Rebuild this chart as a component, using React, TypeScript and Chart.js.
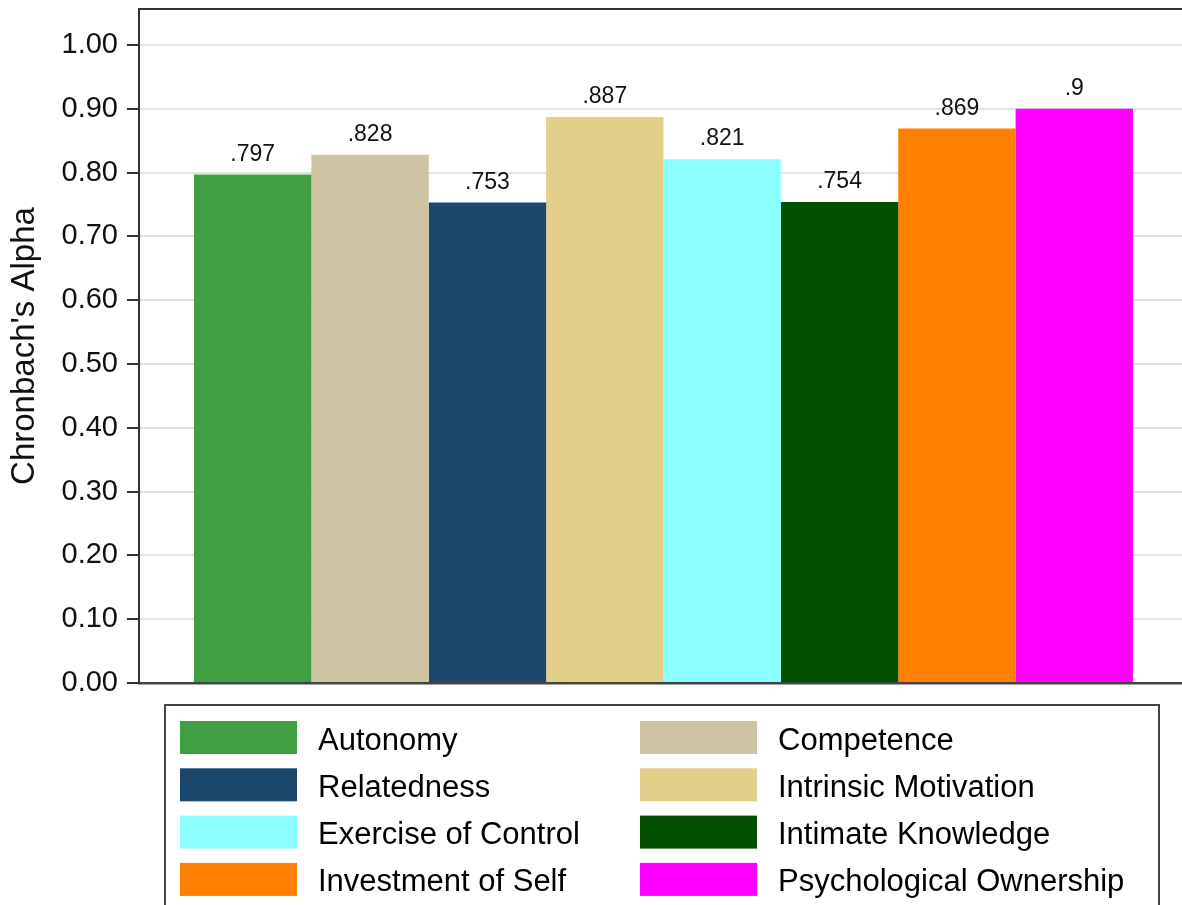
import React, { useEffect, useRef } from "react";
import { Chart, registerables } from "chart.js";

Chart.register(...registerables);

const categories = [
  "Autonomy",
  "Competence",
  "Relatedness",
  "Intrinsic Motivation",
  "Exercise of Control",
  "Intimate Knowledge",
  "Investment of Self",
  "Psychological Ownership",
];
const alphaValues = [0.797, 0.828, 0.753, 0.887, 0.821, 0.754, 0.869, 0.9];
const barColors = [
  "#409f40",
  "#cec3a2",
  "#1c476c",
  "#e2cf89",
  "#8cffff",
  "#005000",
  "#ff8000",
  "#ff00ff",
];
const yTickValues = [0, 0.1, 0.2, 0.3, 0.4, 0.5, 0.6, 0.7, 0.8, 0.9, 1.0];
const yTickLabels = ["0.00", "0.10", "0.20", "0.30", "0.40", "0.50", "0.60", "0.70", "0.80", "0.90", "1.00"];
const yAxisTitle = "Chronbach's Alpha";

const FONT = "'Liberation Sans', Arial, Helvetica, sans-serif";

const formatAlpha = (v: number) => String(v).replace(/^0/, "");

const valueLabelPlugin = {
  id: "valueLabels",
  afterDatasetsDraw(chart: any) {
    const ctx = chart.ctx;
    ctx.save();
    ctx.font = `23px ${FONT}`;
    ctx.fillStyle = "#111";
    ctx.textAlign = "center";
    ctx.textBaseline = "alphabetic";
    chart.data.datasets.forEach((ds: any, i: number) => {
      const meta = chart.getDatasetMeta(i);
      const bar = meta.data[0];
      if (!bar) return;
      ctx.fillText(formatAlpha(ds.data[0]), bar.x, bar.y - 14);
    });
    ctx.restore();
  },
};

const frameAndLegendPlugin = {
  id: "frameLegend",
  afterDraw(chart: any) {
    const ctx = chart.ctx;
    const area = chart.chartArea;
    ctx.save();
    // top frame line of plot region
    ctx.strokeStyle = "#333";
    ctx.lineWidth = 2;
    ctx.beginPath();
    ctx.moveTo(area.left, area.top);
    ctx.lineTo(area.right, area.top);
    ctx.lineTo(area.right, area.bottom);
    ctx.stroke();

    // legend box
    ctx.strokeStyle = "#444";
    ctx.lineWidth = 2;
    ctx.strokeRect(165, 705, 994, 240);
    ctx.font = `31px ${FONT}`;
    ctx.textBaseline = "middle";
    ctx.textAlign = "left";
    chart.data.datasets.forEach((ds: any, i: number) => {
      const col = i % 2;
      const row = Math.floor(i / 2);
      const sx = col === 0 ? 180 : 640;
      const sy = 721 + row * 47.3;
      ctx.fillStyle = ds.backgroundColor;
      ctx.fillRect(sx, sy, 117, 33);
      ctx.fillStyle = "#000";
      ctx.fillText(ds.label, sx + 138, sy + 20);
    });
    ctx.restore();
  },
};

export default function App() {
  const canvasRef = useRef<HTMLCanvasElement | null>(null);

  useEffect(() => {
    if (!canvasRef.current) return;
    const chart = new Chart(canvasRef.current, {
      type: "bar",
      data: {
        labels: [""],
        datasets: categories.map((name, i) => ({
          label: name,
          data: [alphaValues[i]],
          backgroundColor: barColors[i],
          borderWidth: 0,
          barPercentage: 1,
          categoryPercentage: 0.8951,
        })),
      },
      options: {
        responsive: false,
        animation: false,
        devicePixelRatio: 1,
        layout: { padding: { top: 9, right: 12, bottom: 222, left: 0 } },
        plugins: {
          legend: { display: false },
          tooltip: { enabled: false },
        },
        scales: {
          x: {
            display: true,
            grid: { display: false },
            ticks: { display: false },
            border: { display: true, color: "#444", width: 2.5 },
            afterFit: (s: any) => {
              s.height = 0;
              s.paddingLeft = 0;
              s.paddingRight = 0;
            },
          },
          y: {
            min: 0,
            max: 1.0564,
            afterBuildTicks: (s: any) => {
              s.ticks = yTickValues.map((v) => ({ value: v }));
            },
            afterFit: (s: any) => {
              s.width = 139;
              s.paddingTop = 0;
              s.paddingBottom = 0;
            },
            ticks: {
              padding: 9,
              color: "#111",
              font: { family: FONT, size: 29 },
              callback: (_v: any, idx: number) => yTickLabels[idx],
            },
            grid: {
              color: "#e3e3e3",
              lineWidth: 2,
              tickLength: 12,
              tickColor: "#333",
              tickWidth: 2,
            },
            border: { display: true, color: "#333", width: 2 },
            title: {
              display: true,
              text: yAxisTitle,
              color: "#111",
              font: { family: FONT, size: 33 },
              padding: { top: 5, bottom: 0 },
            },
          },
        },
      },
      plugins: [valueLabelPlugin, frameAndLegendPlugin],
    } as any);
    return () => chart.destroy();
  }, []);

  return (
    <div
      style={{
        position: "fixed",
        left: 0,
        top: 0,
        width: 1182,
        height: 905,
        overflow: "hidden",
        background: "#fff",
      }}
    >
      <canvas ref={canvasRef} width={1200} height={905} style={{ display: "block" }} />
    </div>
  );
}
